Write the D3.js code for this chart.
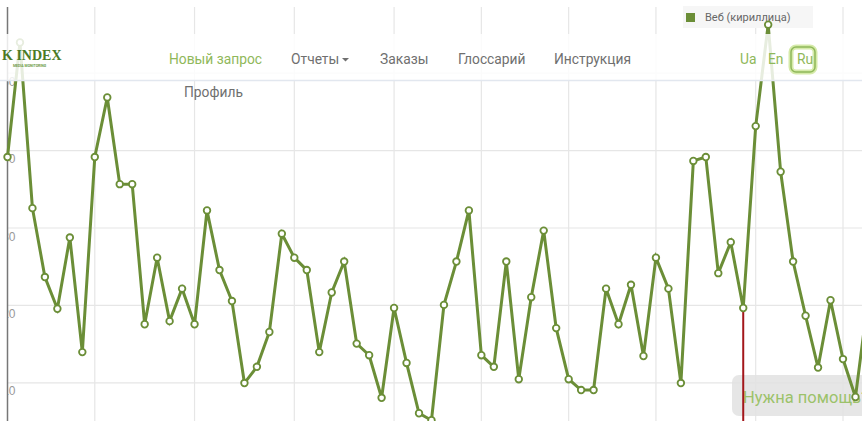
<!DOCTYPE html>
<html>
<head>
<meta charset="utf-8">
<script src="https://cdn.jsdelivr.net/npm/d3@7"></script>
<style>
  body { margin: 0; background: #fff; overflow: hidden; }
  svg { display: block; font-family: Roboto, 'Open Sans', sans-serif; }
</style>
</head>
<body>
<svg id="chart" width="862" height="421"></svg>
<script>
  'use strict';

  // Series values, one per period
  var seriesName = 'Веб (кириллица)';
  var values = [
    39.1, 53.9, 32.5, 23.6, 19.5, 28.7, 13.9, 39.1, 46.8, 35.6,
    35.6, 17.5, 26.1, 17.9, 22.1, 17.5, 32.2, 24.5, 20.5, 9.9,
    12.0, 16.5, 29.2, 26.1, 24.5, 13.9, 21.6, 25.6, 15.0, 13.5,
    8.0, 19.6, 12.5, 6.0, 5.1, 20.0, 25.6, 32.2, 13.5, 12.0,
    25.6, 10.4, 21.0, 29.6, 17.0, 10.4, 9.0, 9.0, 22.1, 17.5,
    22.6, 13.4, 26.1, 22.1, 9.9, 38.6, 39.1, 24.1, 28.1, 19.6,
    43.1, 56.2, 37.2, 25.6, 18.6, 11.9, 20.6, 13.0, 8.1, 20.6
  ];

  // Category positions that carry a vertical grid line
  var gridIndex = [ 7, 15, 23, 31, 38, 45, 52, 60, 67 ];

  // Value axis ticks
  var yTicks = [ 10, 20, 30, 40, 50 ];

  // Point under the mouse (hover line)
  var hoverIndex = 59;

  // Page chrome drawn over the chart
  var navItems = [ 'Новый запрос', 'Отчеты', 'Заказы', 'Глоссарий', 'Инструкция' ];
  var navX = [ 169, 291, 380, 458, 554 ];
  var langs = [ 'Ua', 'En', 'Ru' ];
  var langX = [ 740, 768, 797 ];

  var width = 862;
  var height = 421;
  var green = '#6b8e37';
  var light = '#8fb85a';

  var svg = d3.select( '#chart' );

  var x = d3.scaleLinear()
    .domain( [ 0, values.length - 1 ] )
    .range( [ 7.5, 7.5 + 12.47 * ( values.length - 1 ) ] );

  var y = d3.scaleLinear()
    .domain( [ 0, 50 ] )
    .range( [ 459.7, 72.7 ] );

  var plotTop = 7;

  //
  // GRID
  //

  svg.append( 'g' )
    .attr( 'class', 'grid-x' )
    .selectAll( 'line' )
    .data( gridIndex )
    .enter().append( 'line' )
    .attr( 'x1', function( d ) { return x( d ); } )
    .attr( 'x2', function( d ) { return x( d ); } )
    .attr( 'y1', plotTop )
    .attr( 'y2', height )
    .attr( 'stroke', '#e6e6e6' )
    .attr( 'stroke-width', 1.2 );

  // Clip for tick labels: the screenshot cuts everything left of the axis.
  // Coordinates are local to the translated axis group.
  svg.append( 'clipPath' )
    .attr( 'id', 'axis-clip' )
    .append( 'rect' )
    .attr( 'x', 0.5 )
    .attr( 'y', 0 )
    .attr( 'width', width )
    .attr( 'height', height );

  var yAxis = svg.append( 'g' )
    .attr( 'class', 'y axis' )
    .attr( 'transform', 'translate(' + x( 0 ) + ',0)' )
    .attr( 'clip-path', 'url(#axis-clip)' )
    .call( d3.axisLeft( y )
      .tickValues( yTicks )
      .tickSize( -( width - x( 0 ) ) )
      .tickFormat( d3.format( 'd' ) ) );

  yAxis.select( '.domain' ).remove();
  yAxis.selectAll( '.tick line' )
    .attr( 'stroke', '#e6e6e6' )
    .attr( 'stroke-width', 1.2 );
  yAxis.selectAll( '.tick text' )
    .attr( 'x', 8 )
    .attr( 'dy', '1.05em' )
    .attr( 'fill', '#999' )
    .style( 'font-size', '12px' );

  // Axis line
  svg.append( 'line' )
    .attr( 'x1', x( 0 ) )
    .attr( 'x2', x( 0 ) )
    .attr( 'y1', plotTop )
    .attr( 'y2', height )
    .attr( 'stroke', '#777' )
    .attr( 'stroke-width', 1.5 );

  //
  // LEGEND
  //

  var legend = svg.append( 'g' )
    .attr( 'class', 'legend' )
    .attr( 'transform', 'translate(683,6)' );

  legend.append( 'rect' )
    .attr( 'width', 130 )
    .attr( 'height', 22 )
    .attr( 'fill', '#f6f6f6' );

  legend.append( 'rect' )
    .attr( 'x', 3 )
    .attr( 'y', 7 )
    .attr( 'width', 9 )
    .attr( 'height', 9 )
    .attr( 'fill', green );

  legend.append( 'text' )
    .attr( 'x', 22 )
    .attr( 'y', 11 )
    .attr( 'dy', '.35em' )
    .attr( 'fill', '#666' )
    .style( 'font-size', '11px' )
    .text( seriesName );

  //
  // HELP BUTTON (page widget under the chart line)
  //

  svg.append( 'rect' )
    .attr( 'x', 732 )
    .attr( 'y', 375 )
    .attr( 'width', 150 )
    .attr( 'height', 41 )
    .attr( 'rx', 7 )
    .attr( 'fill', '#e2e2e2' )
    .attr( 'opacity', 0.85 );

  svg.append( 'text' )
    .attr( 'x', 743 )
    .attr( 'y', 397 )
    .attr( 'dy', '.35em' )
    .attr( 'fill', '#9cc26a' )
    .style( 'font-size', '16.5px' )
    .text( 'Нужна помощь?' );

  //
  // HOVER LINE
  //

  svg.append( 'line' )
    .attr( 'x1', x( hoverIndex ) )
    .attr( 'x2', x( hoverIndex ) )
    .attr( 'y1', y( values[ hoverIndex ] ) )
    .attr( 'y2', height )
    .attr( 'stroke', '#a3161b' )
    .attr( 'stroke-width', 2 );

  //
  // SERIES
  //

  var line = d3.line()
    .x( function( d, i ) { return x( i ); } )
    .y( function( d ) { return y( d ); } );

  svg.append( 'path' )
    .datum( values )
    .attr( 'd', line )
    .attr( 'fill', 'none' )
    .attr( 'stroke', green )
    .attr( 'stroke-width', 3 )
    .attr( 'stroke-linejoin', 'miter' );

  svg.append( 'g' )
    .attr( 'class', 'points' )
    .selectAll( 'circle' )
    .data( values )
    .enter().append( 'circle' )
    .attr( 'cx', function( d, i ) { return x( i ); } )
    .attr( 'cy', function( d ) { return y( d ); } )
    .attr( 'r', 3.3 )
    .attr( 'fill', '#fff' )
    .attr( 'stroke', green )
    .attr( 'stroke-width', 1.8 );

  //
  // NAVBAR (semi transparent, sits over the chart)
  //

  var nav = svg.append( 'g' ).attr( 'class', 'navbar' );

  nav.append( 'rect' )
    .attr( 'x', 0 )
    .attr( 'y', 34 )
    .attr( 'width', width )
    .attr( 'height', 46 )
    .attr( 'fill', '#fff' )
    .attr( 'opacity', 0.84 );

  nav.append( 'line' )
    .attr( 'x1', 0 )
    .attr( 'x2', width )
    .attr( 'y1', 80.5 )
    .attr( 'y2', 80.5 )
    .attr( 'stroke', '#e2e7ef' )
    .attr( 'stroke-width', 1.5 );

  // Logo, cut by the left edge
  nav.append( 'text' )
    .attr( 'x', 2 )
    .attr( 'y', 60 )
    .attr( 'fill', '#4a7a26' )
    .style( 'font-family', '"Liberation Serif", serif' )
    .style( 'font-weight', 'bold' )
    .style( 'font-size', '14px' )
    .text( 'K INDEX' );

  nav.append( 'text' )
    .attr( 'x', 13 )
    .attr( 'y', 67 )
    .attr( 'fill', '#6b9a45' )
    .style( 'font-size', '3.5px' )
    .style( 'font-weight', 'bold' )
    .text( 'MEDIA MONITORING' );

  nav.selectAll( '.nav-item' )
    .data( navItems )
    .enter().append( 'text' )
    .attr( 'class', 'nav-item' )
    .attr( 'x', function( d, i ) { return navX[ i ]; } )
    .attr( 'y', 59 )
    .attr( 'dy', '.35em' )
    .attr( 'fill', function( d, i ) { return i === 0 ? light : '#6f6f6f'; } )
    .style( 'font-size', '13.8px' )
    .text( function( d ) { return d; } );

  // Dropdown caret after "Отчеты"
  nav.append( 'path' )
    .attr( 'd', 'M342,58 L349,58 L345.5,61.5 Z' )
    .attr( 'fill', '#6f6f6f' );

  // Language switch
  nav.append( 'rect' )
    .attr( 'x', 791 )
    .attr( 'y', 47 )
    .attr( 'width', 24 )
    .attr( 'height', 25 )
    .attr( 'rx', 5 )
    .attr( 'fill', '#fff' )
    .attr( 'stroke', '#d5eaa9' )
    .attr( 'stroke-width', 5 );

  nav.append( 'rect' )
    .attr( 'x', 791 )
    .attr( 'y', 47 )
    .attr( 'width', 24 )
    .attr( 'height', 25 )
    .attr( 'rx', 5 )
    .attr( 'fill', 'none' )
    .attr( 'stroke', light )
    .attr( 'stroke-width', 1.5 );

  nav.selectAll( '.lang' )
    .data( langs )
    .enter().append( 'text' )
    .attr( 'class', 'lang' )
    .attr( 'x', function( d, i ) { return langX[ i ]; } )
    .attr( 'y', 59 )
    .attr( 'dy', '.35em' )
    .attr( 'fill', light )
    .style( 'font-size', '13.8px' )
    .text( function( d ) { return d; } );

  // Dropdown entry below the navbar
  svg.append( 'text' )
    .attr( 'x', 184 )
    .attr( 'y', 92 )
    .attr( 'dy', '.35em' )
    .attr( 'fill', '#6f6f6f' )
    .style( 'font-size', '13.8px' )
    .text( 'Профиль' );
</script>
</body>
</html>
